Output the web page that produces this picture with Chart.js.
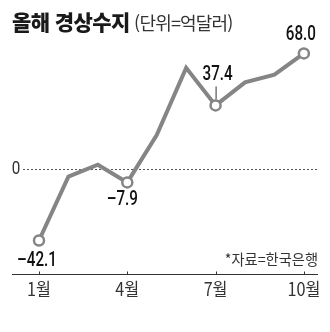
<!DOCTYPE html>
<html lang="ko">
<head>
<meta charset="utf-8">
<script src="https://cdn.jsdelivr.net/npm/chart.js@4"></script>
<style>
  body { margin: 0; background: #fff; }
  #wrap { position: relative; width: 330px; height: 332px; }
  #title { position: absolute; left: 12px; top: 6px; font-family: "Noto Sans CJK KR", sans-serif; color: #1a1a1a; white-space: nowrap; }
  #title b { font-size: 21px; font-weight: 900; letter-spacing: -0.6px; }
  #title span { font-size: 18px; font-weight: 400; color: #333; letter-spacing: -0.8px; }
</style>
</head>
<body>
<div id="wrap">
  <canvas id="balanceChart" width="330" height="332"></canvas>
  <div id="title"><b>올해 경상수지</b> <span>(단위=억달러)</span></div>
</div>
<script>
// 월별 경상수지 (억달러)
const months = [1, 2, 3, 4, 5, 6, 7, 8, 9, 10];
const balance = [-42.1, -4.5, 2.5, -7.9, 20.0, 59.5, 37.4, 51.0, 55.5, 68.0];
const tickMonths = [1, 4, 7, 10];
const tickLabels = ["1월", "4월", "7월", "10월"];
const labeledMonths = [1, 4, 7, 10];
const sourceNote = "*자료=한국은행";

const numFont = '"Roboto", sans-serif';
const krFont = '"Noto Sans CJK KR", sans-serif';

function fmt(v) {
  return (v < 0 ? "\u2013" : "") + Math.abs(v).toFixed(1);
}

// 좁은 숫자 글꼴 흉내: 가로로 눌러서 찍기
function narrowText(ctx, text, cx, cy, sx) {
  ctx.save();
  ctx.translate(cx, cy);
  ctx.scale(sx, 1);
  ctx.fillText(text, 0, 0);
  ctx.restore();
}

// 축, 0 기준선, 값 라벨
const decorations = {
  id: "decorations",
  beforeDatasetsDraw(chart) {
    const { ctx, chartArea, scales: { y } } = chart;
    const y0 = y.getPixelForValue(0);
    ctx.save();
    ctx.strokeStyle = "#555";
    ctx.lineWidth = 1;
    ctx.setLineDash([2, 2]);
    ctx.beginPath();
    ctx.moveTo(23, Math.round(y0) + 0.5);
    ctx.lineTo(chartArea.right, Math.round(y0) + 0.5);
    ctx.stroke();
    ctx.setLineDash([]);
    ctx.fillStyle = "#333";
    ctx.font = "19px " + numFont;
    ctx.textAlign = "center";
    ctx.textBaseline = "middle";
    narrowText(ctx, "0", 16, y0, 0.8);
    ctx.restore();
  },
  afterDatasetsDraw(chart) {
    const { ctx, chartArea, scales: { x, y } } = chart;
    ctx.save();
    // x축
    const yb = Math.round(chartArea.bottom) + 0.5;
    ctx.strokeStyle = "#333";
    ctx.lineWidth = 1;
    ctx.beginPath();
    ctx.moveTo(chartArea.left, yb);
    ctx.lineTo(chartArea.right, yb);
    tickMonths.forEach(m => {
      const px = Math.round(x.getPixelForValue(m)) + 0.5;
      ctx.moveTo(px, yb);
      ctx.lineTo(px, yb - 3);
    });
    ctx.stroke();
    ctx.fillStyle = "#333";
    ctx.font = "18px " + krFont;
    ctx.textAlign = "center";
    ctx.textBaseline = "middle";
    tickMonths.forEach((m, i) => {
      narrowText(ctx, tickLabels[i], x.getPixelForValue(m), yb + 15, 0.9);
    });
    ctx.font = "15px " + krFont;
    ctx.textAlign = "right";
    narrowText(ctx, sourceNote, 318, 259, 0.95);

    // 값 라벨
    ctx.fillStyle = "#111";
    ctx.font = "500 20px " + numFont;
    ctx.textAlign = "center";
    const offsets = { 1: [-2, 20], 4: [-5, 18], 7: [2, -30], 10: [-3, -18] };
    labeledMonths.forEach(m => {
      const v = balance[months.indexOf(m)];
      const px = x.getPixelForValue(m);
      const py = y.getPixelForValue(v);
      const [dx, dy] = offsets[m];
      narrowText(ctx, fmt(v), px + dx, py + dy, 0.76);
      if (m === 7) {
        ctx.strokeStyle = "#333";
        ctx.beginPath();
        ctx.moveTo(px + 0.5, py - 19);
        ctx.lineTo(px + 0.5, py - 6);
        ctx.stroke();
      }
    });
    ctx.restore();
  }
};

new Chart(document.getElementById("balanceChart").getContext("2d"), {
  type: "line",
  data: {
    datasets: [{
      data: months.map((m, i) => ({ x: m, y: balance[i] })),
      borderColor: "#858585",
      borderWidth: 4,
      tension: 0,
      pointRadius: months.map(m => labeledMonths.includes(m) ? 5 : 0),
      pointBackgroundColor: "#fff",
      pointBorderColor: "#858585",
      pointBorderWidth: 2.5
    }]
  },
  options: {
    responsive: false,
    animation: false,
    layout: { padding: { left: 12, right: 12, top: 40, bottom: 58 } },
    scales: {
      x: { type: "linear", display: false, min: 0.083, max: 10.48 },
      y: { type: "linear", display: false, min: -61.8, max: 75.9 }
    },
    plugins: {
      legend: { display: false },
      tooltip: { enabled: false }
    }
  },
  plugins: [decorations]
});
</script>
</body>
</html>
